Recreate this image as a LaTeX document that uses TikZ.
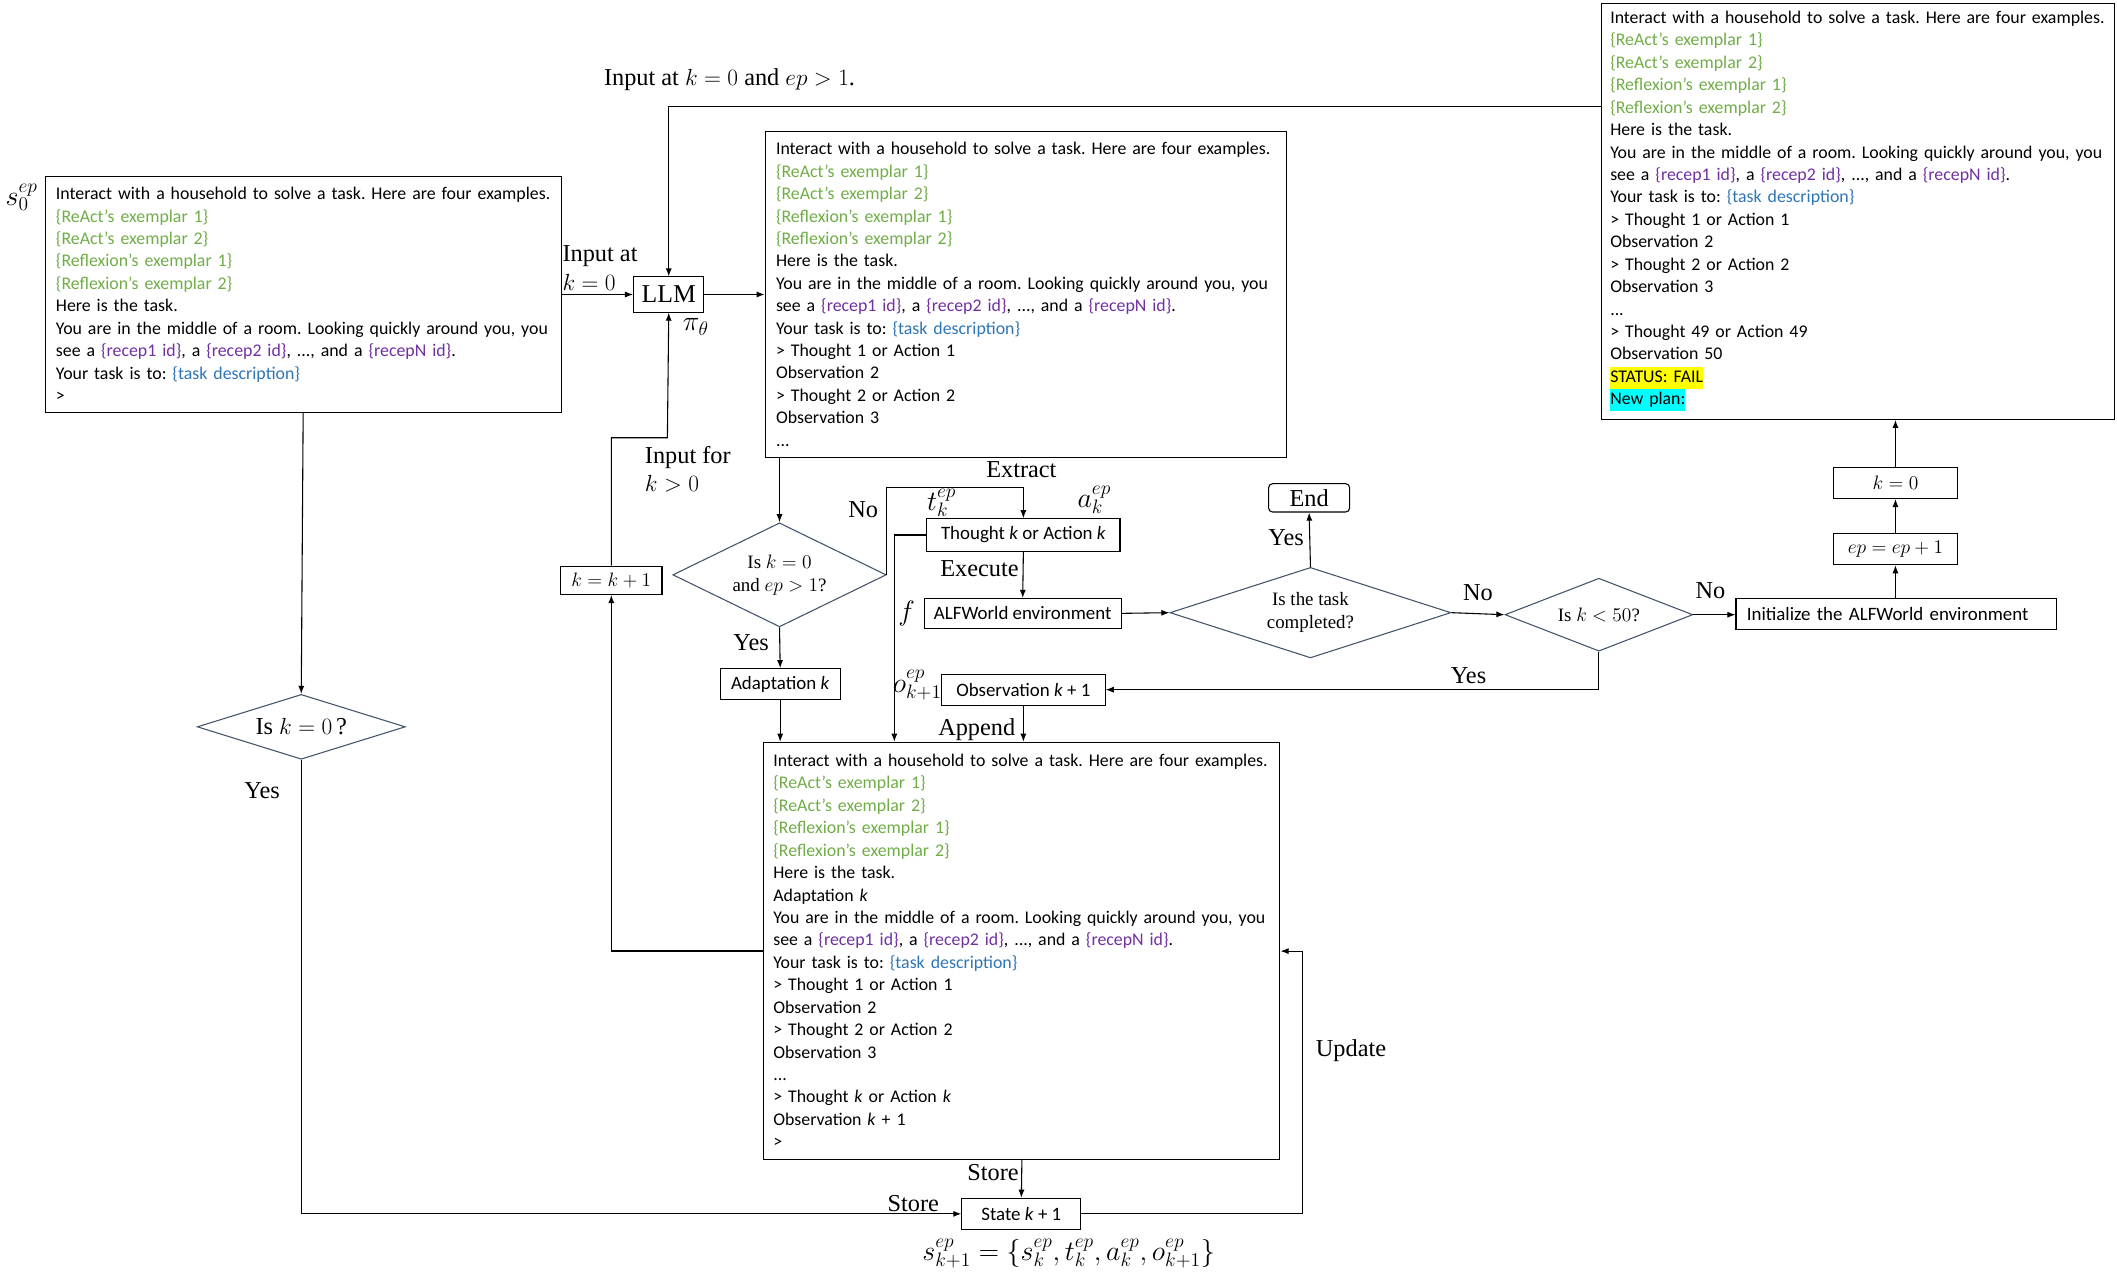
\documentclass[tikz,border=0pt]{standalone}
\usepackage{fontspec}
\setmainfont{Liberation Serif}
\newfontfamily\calib{Carlito}
\usetikzlibrary{arrows.meta,shapes.geometric}
\definecolor{exg}{HTML}{70AD47}
\definecolor{rcp}{HTML}{7030A0}
\definecolor{tsk}{HTML}{2E75B6}
\definecolor{dmd}{HTML}{44546A}
\definecolor{hye}{RGB}{255,255,0}
\definecolor{hcy}{RGB}{0,255,255}
\newcommand{\gx}[1]{\textcolor{exg}{#1}}
\newcommand{\px}[1]{\textcolor{rcp}{#1}}
\newcommand{\bx}[1]{\textcolor{tsk}{#1}}
\newcommand{\hlt}[2]{{\setlength{\fboxsep}{0pt}\colorbox{#1}{\strut #2}}}
\newcommand{\bm}[1]{{\fontsize{15}{17}\selectfont$#1$}}
\newcommand{\exemplars}{\gx{\{ReAct’s exemplar 1\}}\\\gx{\{ReAct’s exemplar 2\}}\\\gx{\{Reflexion’s exemplar 1\}}\\\gx{\{Reflexion’s exemplar 2\}}}
\newcommand{\roomtxt}{You are in the middle of a room. Looking quickly around you, you\\see a \px{\{recep1 id\}}, a \px{\{recep2 id\}}, ..., and a \px{\{recepN id\}}.\\Your task is to: \bx{\{task description\}}}
\frenchspacing
\begin{document}
\begin{tikzpicture}[x=1pt,y=-1pt, line width=0.8pt,
 >={Latex[length=6pt,width=4.5pt]},
 cb/.style={font=\calib\fontsize{13.2}{16.6}\selectfont},
 tbox/.style={draw, cb, align=left, anchor=north west, inner xsep=8pt, inner ysep=0pt},
 sbox/.style={draw, font=\calib\fontsize{14}{16}\selectfont, inner sep=0pt},
 lab/.style={font=\fontsize{18}{21}\selectfont, inner sep=0pt},
 mlab/.style={font=\fontsize{20}{22}\selectfont, inner sep=0pt},
 dia/.style={draw=dmd, diamond, inner sep=0pt, align=center, font=\fontsize{14}{17}\selectfont}]
\useasboundingbox (0,0) rectangle (1567,944);

% big text boxes
\node[tbox, text width=366pt, minimum height=175pt] (b1) at (33,130)
 {Interact with a household to solve a task. Here are four examples.\\\exemplars\\Here is the task.\\\roomtxt\\>};
\node[tbox, text width=370pt, minimum height=241pt] (b2) at (566,97)
 {Interact with a household to solve a task. Here are four examples.\\\exemplars\\Here is the task.\\\roomtxt\\> Thought 1 or Action 1\\Observation 2\\> Thought 2 or Action 2\\Observation 3\\...};
\node[tbox, text width=368pt, inner xsep=7pt, minimum height=309pt] (b3) at (565,549)
 {Interact with a household to solve a task. Here are four examples.\\\exemplars\\Here is the task.\\Adaptation \textit{k}\\\roomtxt\\> Thought 1 or Action 1\\Observation 2\\> Thought 2 or Action 2\\Observation 3\\...\\> Thought \textit{k} or Action \textit{k}\\Observation \textit{k} + 1\\>};
\node[tbox, text width=367pt, inner xsep=6.5pt, minimum height=308pt] (b4) at (1185,2)
 {Interact with a household to solve a task. Here are four examples.\\\exemplars\\Here is the task.\\\roomtxt\\> Thought 1 or Action 1\\Observation 2\\> Thought 2 or Action 2\\Observation 3\\...\\> Thought 49 or Action 49\\Observation 50\\\hlt{hye}{STATUS: FAIL}\\\hlt{hcy}{New plan:}};

% small boxes
\node[draw, lab, font=\fontsize{19}{21}\selectfont, minimum width=52pt, minimum height=26pt] (llm) at (495,218) {LLM};
\node[sbox, minimum width=75pt, minimum height=21pt] (kinc) at (452.5,429.5) {\bm{k=k+1}};
\node[sbox, minimum width=143pt, minimum height=24pt] (th) at (757.5,396) {Thought \textit{k} or Action \textit{k}};
\node[sbox, minimum width=146pt, minimum height=22pt] (alf) at (757,454) {ALFWorld environment};
\node[sbox, minimum width=121pt, minimum height=23pt] (obs) at (757.5,510.5) {Observation \textit{k} + 1};
\node[sbox, minimum width=89pt, minimum height=23pt] (adp) at (577.5,506.5) {Adaptation \textit{k}};
\node[sbox, minimum width=88pt, minimum height=23pt] (stt) at (756,898.5) {State \textit{k} + 1};
\node[draw, lab, rounded corners=3pt, minimum width=60pt, minimum height=21pt] (endn) at (969,368.5) {End};
\node[sbox, minimum width=237pt, minimum height=23pt, text width=221pt, align=left] (ini) at (1403.5,454.5) {Initialize the ALFWorld environment};
\node[sbox, minimum width=92pt, minimum height=23pt] (epn) at (1403,406.5) {\bm{ep=ep+1}};
\node[sbox, minimum width=92pt, minimum height=23pt] (kz) at (1403,357.5) {\bm{k=0}};

% diamonds
\node[dia, aspect=2, minimum width=158pt, minimum height=77pt] (d1) at (577,425.5) {Is $k=0$\\and $ep>1$?};
\node[dia, aspect=3.1, minimum width=208pt, minimum height=67pt] (d2) at (970,453.5) {Is the task\\completed?};
\node[dia, aspect=2.6, minimum width=139pt, minimum height=54pt] (d3) at (1183.5,455) {Is $k<50$?};
\node[dia, aspect=3.2, font=\fontsize{18}{21}\selectfont, minimum width=154pt, minimum height=48pt] (d0) at (223,538) {Is $k=0\,$?};

% labels
\node[mlab, font=\fontsize{22}{24}\selectfont] (s0) at (16,146) {$s_0^{ep}$};
\node[lab] (inp) at (540,59) {Input at $k=0$ and $ep>1$.};
\node[lab, align=left, anchor=west] (inp0) at (416,198.5) {Input at\\$k=0$};
\node[mlab] (pi) at (515,242) {$\pi_\theta$};
\node[lab, align=left, anchor=west] (inpk) at (477,347.5) {Input for\\$k>0$};
\node[lab] (no1) at (639,377) {No};
\node[lab] (yes1) at (556,476) {Yes};
\node[lab] (extr) at (756,348) {Extract};
\node[mlab] (tk) at (697,372) {$t_k^{ep}$};
\node[mlab] (ak) at (810,370) {$a_k^{ep}$};
\node[lab] (exe) at (725,421) {Execute};
\node[mlab] (fl) at (671,454) {$f$};
\node[lab] (yes2) at (952,398) {Yes};
\node[lab] (no2) at (1094,439) {No};
\node[lab] (no3) at (1266,437) {No};
\node[lab] (yes3) at (1087,500) {Yes};
\node[mlab] (ok) at (679,507) {$o_{k+1}^{ep}$};
\node[lab] (appd) at (723,540) {Append};
\node[lab] (yes0) at (194,585) {Yes};
\node[lab] (st1) at (735,868) {Store};
\node[lab] (st2) at (676,891) {Store};
\node[lab] (upd) at (1000,778) {Update};
\node[mlab] (form) at (791,928) {$s_{k+1}^{ep}=\left\{s_k^{ep},t_k^{ep},a_k^{ep},o_{k+1}^{ep}\right\}$};

% helper coordinates
\coordinate (topln) at (494,79);
\coordinate (jn) at (494,324);
\coordinate (ext) at (700,361);
\coordinate (app) at (662,549);
\coordinate (updc) at (964,704);

% connectors
\draw[->] (b1.east|-llm) -- (llm.west);
\draw[->] (b4.west|-topln) -| (llm.north);
\draw[->] (llm.east) -- (b2.west|-llm);
\draw[->] (kinc.north) |- (jn) -- (llm.south);
\draw[->] (d1.north|-b2.south) -- (d1.north);
\draw[->] (d1.east) |- (ext) -| (th.north);
\draw[->] (th.west) -| (app);
\draw[->] (th.south) -- (alf.north);
\draw[->] (alf.east) -- (d2.west);
\draw[->] (d2.north) -- (endn.south);
\draw[->] (d2.east) -- (d3.west);
\draw[->] (d3.east) -- (ini.west|-d3.east);
\draw[->] (ini.north-|epn) -- (epn.south);
\draw[->] (epn.north) -- (kz.south);
\draw[->] (kz.north) -- (kz.north|-b4.south);
\draw[->] (d3.south) |- (obs.east);
\draw[->] (obs.south) -- (obs.south|-b3.north);
\draw[->] (d1.south) -- (adp.north);
\draw[->] (adp.south) -- (adp.south|-b3.north);
\draw[->] (b3.west) -| (kinc.south);
\draw[->] (b3.south) -- (stt.north);
\draw[->] (b1.south) -- (d0.north);
\draw[->] (d0.south) |- (stt.west);
\draw[->] (stt.east) -| (updc) -- (b3.east|-updc);
\end{tikzpicture}
\end{document}
